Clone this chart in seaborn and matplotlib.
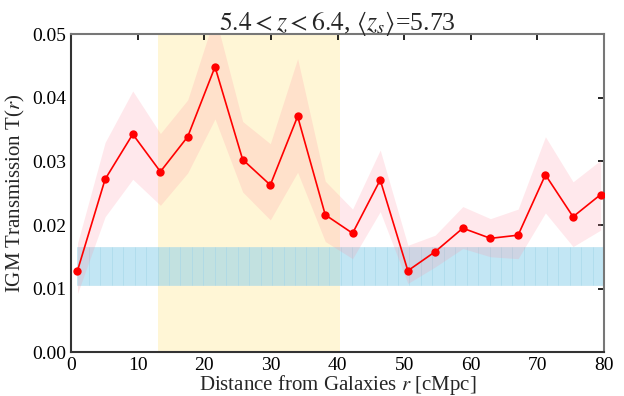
import numpy as np
import pandas as pd
import matplotlib
matplotlib.use("Agg")
import matplotlib.pyplot as plt
import seaborn as sns

# ---- data ----
r = [0.95, 5.1, 9.25, 13.4, 17.5, 21.6, 25.75, 29.9, 34.0, 38.15,
     42.25, 46.4, 50.55, 54.65, 58.8, 62.95, 67.1, 71.2, 75.35, 79.5]
T = [0.0128, 0.0272, 0.0343, 0.0284, 0.0339, 0.0449, 0.0303, 0.0263, 0.0371, 0.0216,
     0.0187, 0.0271, 0.0128, 0.0158, 0.0195, 0.0179, 0.0184, 0.0279, 0.0213, 0.0248]
T_lo = [0.0092, 0.0213, 0.0272, 0.0231, 0.0282, 0.0367, 0.0252, 0.0208, 0.0283, 0.0174,
        0.0147, 0.0221, 0.0108, 0.0134, 0.0163, 0.0150, 0.0147, 0.0219, 0.0166, 0.0192]
T_hi = [0.0171, 0.0330, 0.0411, 0.0344, 0.0397, 0.0530, 0.0363, 0.0328, 0.0462, 0.0269,
        0.0225, 0.0318, 0.0168, 0.0184, 0.0229, 0.0210, 0.0225, 0.0339, 0.0268, 0.0302]
mean_lo, mean_hi = 0.0106, 0.0166       # mean IGM transmission band
highlight = (13.1, 40.3)                 # shaded distance range
band_edges = np.linspace(0.95, 80.0, 47) # segments of the mean band

title = r"$5.4<z<6.4$, $\langle z_s\rangle$=5.73"
xlabel = r"Distance from Galaxies $r$ [cMpc]"
ylabel = r"IGM Transmission T($r$)"
xticks = [0, 10, 20, 30, 40, 50, 60, 70, 80]
yticks = [0.00, 0.01, 0.02, 0.03, 0.04, 0.05]

df = pd.DataFrame({"r": r, "T": T, "lo": T_lo, "hi": T_hi})

sns.set_theme(style="white")
plt.rcParams["font.family"] = ["Liberation Serif", "DejaVu Serif"]
plt.rcParams["mathtext.fontset"] = "stix"

fig = plt.figure(figsize=(6.24, 3.96), dpi=100)
ax = fig.add_axes([0.114, 0.111, 0.854, 0.802])

# highlighted range
ax.axvspan(*highlight, color="#fff6d6", zorder=0, lw=0)

# mean band made from many segments
for a, b in zip(band_edges[:-1], band_edges[1:]):
    ax.fill_between([a, b], mean_lo, mean_hi, facecolor="#87ceeb", alpha=0.5,
                    edgecolor="#a3d6ea", lw=0.5, zorder=1)

# error band
ax.fill_between(df["r"], df["lo"], df["hi"], color="#ff8fa0", alpha=0.2, lw=0, zorder=2)

sns.lineplot(data=df, x="r", y="T", ax=ax, color="red", lw=1.2, marker="o",
             markersize=6, markeredgewidth=0, zorder=3)

ax.set_xlim(0, 80)
ax.set_ylim(0, 0.05)
ax.set_xticks(xticks)
ax.set_yticks(yticks)
ax.set_yticklabels([f"{v:.2f}" for v in yticks])
ax.set_xlabel(xlabel, fontsize=15, labelpad=-1)
ax.set_ylabel(ylabel, fontsize=15, labelpad=4)
ax.set_title(title, fontsize=18.5, pad=3)
ax.tick_params(direction="in", length=4, width=1.2, colors="black",
               labelsize=14, top=True, right=True, pad=3.5)
for name, s in ax.spines.items():
    s.set_color("#333333" if name in ("left", "bottom") else "#777777")
    s.set_linewidth(1.5)

fig.savefig("out.png", dpi=100)
